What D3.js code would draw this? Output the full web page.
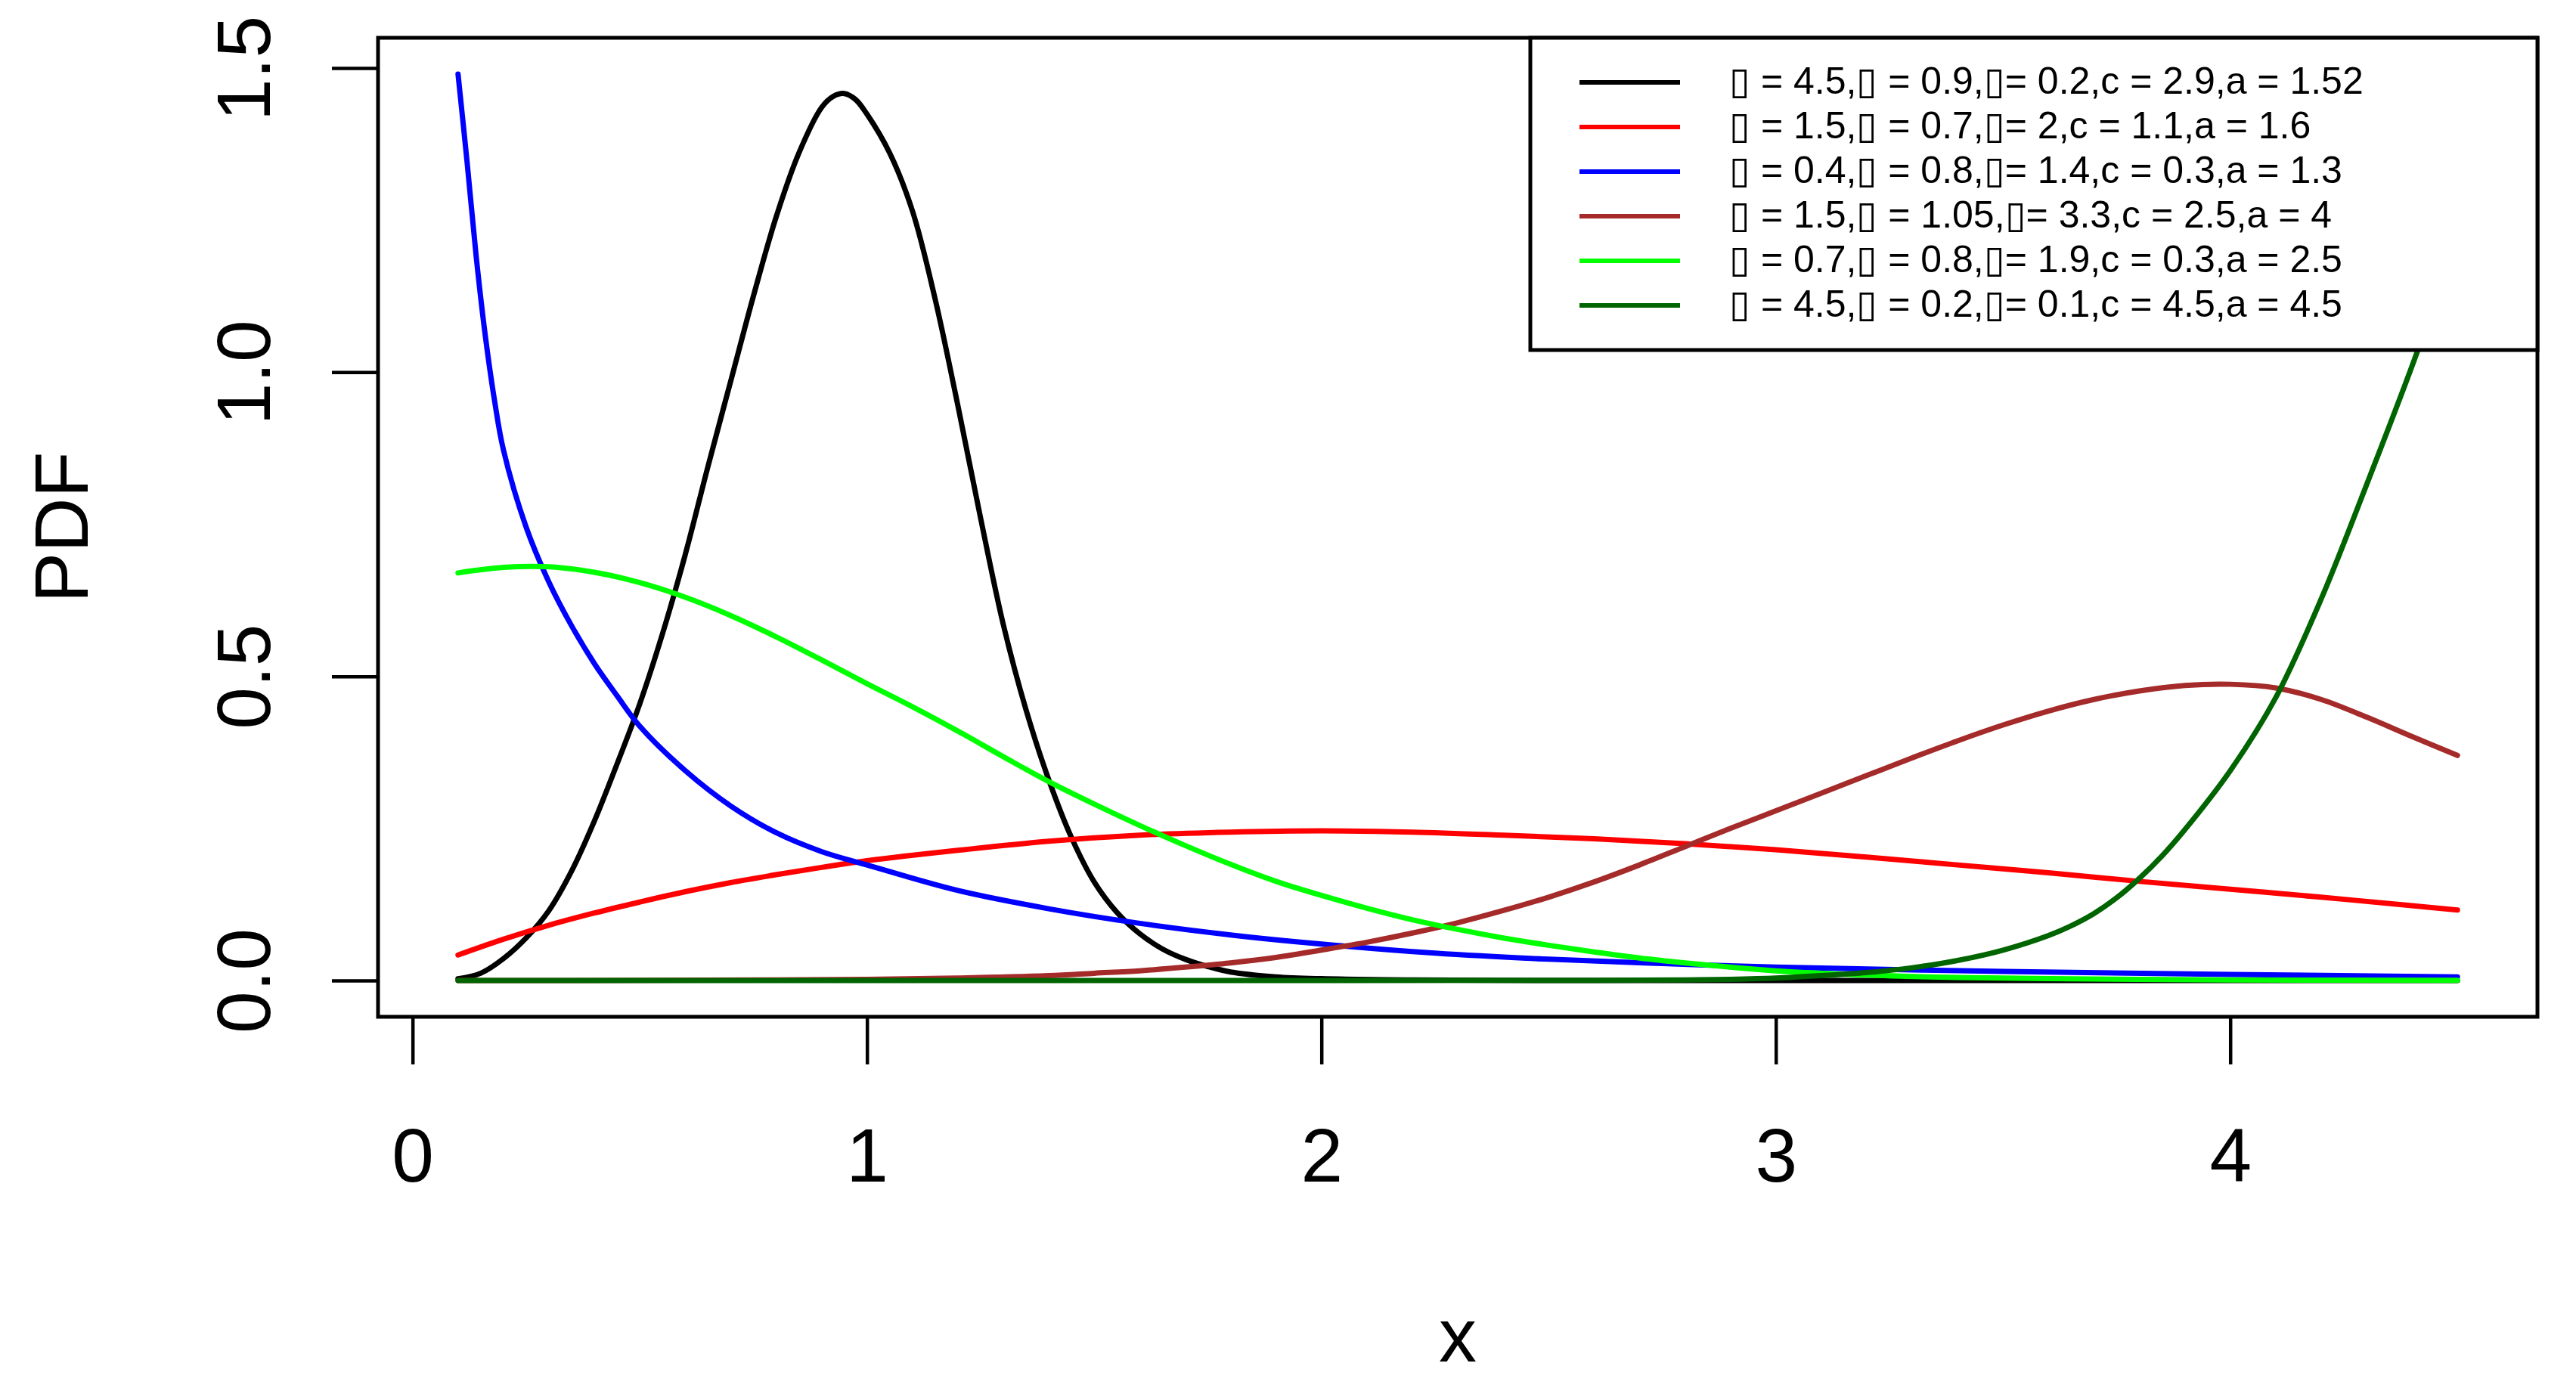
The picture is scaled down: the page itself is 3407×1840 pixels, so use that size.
<!DOCTYPE html>
<html>
<head>
<meta charset="utf-8">
<script src="https://cdn.jsdelivr.net/npm/d3@7"></script>
<style>
  body { margin: 0; background: #fff; }
  text { font-family: "Liberation Sans", Arial, Helvetica, sans-serif; }
</style>
</head>
<body>
<div class="chart"></div>
<script>
// values, [x, pdf]
var blackPts = [[0.1,0.003],[0.15,0.012],[0.2,0.036],[0.25,0.07],[0.3,0.115],[0.35,0.18],[0.4,0.262],[0.45,0.356],[0.5,0.455],[0.55,0.57],[0.6,0.7],[0.65,0.845],[0.7,0.985],[0.75,1.125],[0.8,1.255],[0.85,1.36],[0.9,1.435],[0.925,1.453],[0.95,1.458],[0.975,1.448],[1.0,1.424],[1.05,1.36],[1.1,1.265],[1.15,1.12],[1.2,0.945],[1.25,0.76],[1.3,0.585],[1.35,0.445],[1.4,0.33],[1.45,0.235],[1.5,0.162],[1.55,0.112],[1.6,0.077],[1.65,0.052],[1.7,0.035],[1.75,0.023],[1.8,0.014],[1.9,0.006],[2.0,0.003],[2.2,0.001],[2.5,0],[3.0,0],[3.5,0],[4.0,0],[4.5,0]];
var redPts = [[0.1,0.042],[0.2,0.068],[0.3,0.091],[0.4,0.111],[0.5,0.129],[0.6,0.146],[0.7,0.161],[0.8,0.174],[0.9,0.186],[1.0,0.197],[1.2,0.214],[1.4,0.229],[1.6,0.239],[1.8,0.244],[2.0,0.246],[2.2,0.244],[2.4,0.239],[2.6,0.233],[2.8,0.225],[3.0,0.215],[3.2,0.203],[3.4,0.19],[3.6,0.177],[3.8,0.163],[4.0,0.15],[4.2,0.137],[4.4,0.123],[4.5,0.116]];
var bluePts = [[0.1,1.49],[0.12,1.345],[0.14,1.19],[0.16,1.06],[0.18,0.955],[0.2,0.872],[0.25,0.745],[0.3,0.655],[0.35,0.583],[0.4,0.521],[0.45,0.468],[0.5,0.418],[0.6,0.345],[0.7,0.287],[0.8,0.243],[0.9,0.212],[1.0,0.19],[1.2,0.148],[1.4,0.118],[1.6,0.094],[1.8,0.075],[2.0,0.06],[2.25,0.045],[2.5,0.035],[2.75,0.028],[3.0,0.022],[3.5,0.015],[4.0,0.01],[4.5,0.006]];
var brownPts = [[0.1,0],[0.5,0.0003],[0.8,0.001],[1.0,0.002],[1.2,0.004],[1.4,0.008],[1.5,0.012],[1.6,0.016],[1.7,0.022],[1.8,0.029],[1.9,0.038],[2.0,0.05],[2.1,0.063],[2.2,0.078],[2.3,0.095],[2.4,0.115],[2.5,0.137],[2.6,0.162],[2.7,0.19],[2.8,0.22],[2.9,0.25],[3.0,0.279],[3.1,0.308],[3.2,0.337],[3.3,0.366],[3.4,0.394],[3.5,0.42],[3.6,0.443],[3.7,0.462],[3.8,0.476],[3.9,0.485],[4.0,0.487],[4.1,0.481],[4.2,0.462],[4.3,0.433],[4.4,0.401],[4.5,0.37]];
var greenPts = [[0.1,0.67],[0.2,0.679],[0.3,0.68],[0.4,0.671],[0.5,0.654],[0.6,0.63],[0.7,0.6],[0.8,0.565],[0.9,0.527],[1.0,0.488],[1.1,0.45],[1.2,0.41],[1.3,0.368],[1.4,0.327],[1.5,0.29],[1.6,0.255],[1.7,0.222],[1.8,0.191],[1.9,0.163],[2.0,0.14],[2.1,0.119],[2.2,0.1],[2.3,0.084],[2.4,0.07],[2.5,0.058],[2.6,0.047],[2.7,0.037],[2.8,0.029],[2.9,0.022],[3.0,0.016],[3.2,0.009],[3.4,0.005],[3.6,0.003],[3.8,0.002],[4.0,0.001],[4.5,0.0003]];
var darkgreenPts = [[0.1,0],[1.0,0],[2.0,0],[2.6,0.0005],[2.8,0.001],[2.9,0.002],[3.0,0.004],[3.1,0.008],[3.2,0.013],[3.3,0.021],[3.4,0.033],[3.5,0.05],[3.6,0.074],[3.65,0.09],[3.7,0.11],[3.75,0.136],[3.8,0.168],[3.85,0.205],[3.9,0.248],[4.0,0.345],[4.1,0.465],[4.2,0.627],[4.3,0.815],[4.4,1.01],[4.5,1.22]];

var seriesColors = ['#000000', '#ff0000', '#0000ff', '#a52a2a', '#00ff00', '#006400'];
var legendLabels = [
  '\u25AF = 4.5,\u25AF = 0.9,\u25AF= 0.2,c = 2.9,a = 1.52',
  '\u25AF = 1.5,\u25AF = 0.7,\u25AF= 2,c = 1.1,a = 1.6',
  '\u25AF = 0.4,\u25AF = 0.8,\u25AF= 1.4,c = 0.3,a = 1.3',
  '\u25AF = 1.5,\u25AF = 1.05,\u25AF= 3.3,c = 2.5,a = 4',
  '\u25AF = 0.7,\u25AF = 0.8,\u25AF= 1.9,c = 0.3,a = 2.5',
  '\u25AF = 4.5,\u25AF = 0.2,\u25AF= 0.1,c = 4.5,a = 4.5'
];
var xTicks = [0, 1, 2, 3, 4];
var yTicks = [0, 0.5, 1.0, 1.5];

var series = [blackPts, redPts, bluePts, brownPts, greenPts, darkgreenPts];

var W = 3407, H = 1840;
var box = {left: 500, right: 3356, top: 50, bottom: 1345};

var svg = d3.select('.chart')
  .append('svg')
    .attr('width', W)
    .attr('height', H);

// R style 4% padding around data range
var allPts = d3.merge(series);
var xr = d3.extent(allPts, d => d[0]);
var yr = d3.extent(allPts, d => d[1]);
var xpad = (xr[1] - xr[0]) * 0.04, ypad = (yr[1] - yr[0]) * 0.04;

var xScale = d3.scaleLinear()
  .domain([xr[0] - xpad, xr[1] + xpad])
  .range([box.left, box.right]);

var yScale = d3.scaleLinear()
  .domain([yr[0] - ypad, yr[1] + ypad])
  .range([box.bottom, box.top]);

var line = d3.line()
  .x(d => xScale(d[0]))
  .y(d => yScale(d[1]))
  .curve(d3.curveCatmullRom.alpha(0.5));

svg.append('g')
  .selectAll('path')
  .data(series)
  .enter()
  .append('path')
    .attr('d', line)
    .attr('fill', 'none')
    .attr('stroke', (d, i) => seriesColors[i])
    .attr('stroke-width', 7)
    .attr('stroke-linecap', 'round')
    .attr('stroke-linejoin', 'round');

// plot frame
svg.append('rect')
  .attr('x', box.left)
  .attr('y', box.top)
  .attr('width', box.right - box.left)
  .attr('height', box.bottom - box.top)
  .attr('fill', 'none')
  .attr('stroke', '#000')
  .attr('stroke-width', 5);

// x axis, ticks hang below the frame
var xAxis = svg.append('g')
  .attr('transform', `translate(0, ${box.bottom})`)
  .call(d3.axisBottom(xScale).tickValues(xTicks).tickSize(63).tickPadding(0).tickFormat(d3.format('d')));
xAxis.select('.domain').remove();
xAxis.selectAll('line').attr('stroke', '#000').attr('stroke-width', 4.5);
xAxis.selectAll('text')
  .attr('y', 218)
  .attr('dy', null)
  .attr('fill', '#000')
  .style('font-size', '100px');

var yAxis = svg.append('g')
  .attr('transform', `translate(${box.left}, 0)`)
  .call(d3.axisLeft(yScale).tickValues(yTicks).tickSize(61).tickFormat(d3.format('.1f')));
yAxis.select('.domain').remove();
yAxis.selectAll('line').attr('stroke', '#000').attr('stroke-width', 4.5);
yAxis.selectAll('text')
  .attr('x', null)
  .attr('dy', null)
  .attr('transform', 'translate(-143, 0) rotate(-90)')
  .attr('text-anchor', 'middle')
  .attr('fill', '#000')
  .style('font-size', '100px');

// axis titles
svg.append('text')
  .attr('x', (box.left + box.right) / 2)
  .attr('y', 1801)
  .attr('text-anchor', 'middle')
  .style('font-size', '100px')
  .text('x');

svg.append('text')
  .attr('transform', `translate(116, ${(box.top + box.bottom) / 2}) rotate(-90)`)
  .attr('text-anchor', 'middle')
  .style('font-size', '100px')
  .text('PDF');

// legend, top right, white box over the curves
var legend = svg.append('g');
legend.append('rect')
  .attr('x', 2024)
  .attr('y', box.top)
  .attr('width', box.right - 2024)
  .attr('height', 463 - box.top)
  .attr('fill', '#fff')
  .attr('stroke', '#000')
  .attr('stroke-width', 5);

var rows = legend.selectAll('.row')
  .data(legendLabels)
  .enter()
  .append('g')
    .attr('class', 'row')
    .attr('transform', (d, i) => `translate(0, ${109 + i * 59})`);

rows.append('line')
  .attr('x1', 2089)
  .attr('x2', 2222)
  .attr('stroke', (d, i) => seriesColors[i])
  .attr('stroke-width', 6);

rows.append('text')
  .attr('x', 2287)
  .attr('y', 15)
  .style('font-size', '50px')
  .text(d => d);
</script>
</body>
</html>
